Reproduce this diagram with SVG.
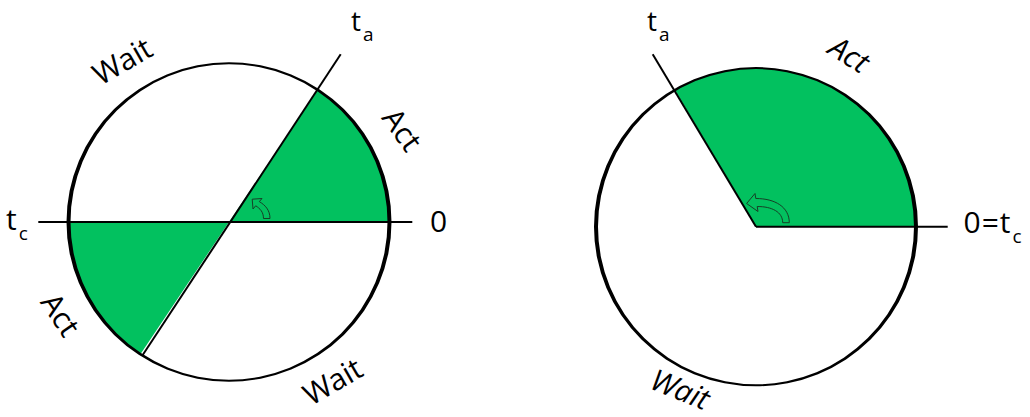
<svg xmlns="http://www.w3.org/2000/svg" width="1030" height="417" viewBox="0 0 1030 417">
<style>
.ring{fill:#000;fill-rule:evenodd}
.act{fill:#02C15F}
.ln{stroke:#000;stroke-width:2;fill:none}
.arr{fill:#02C15F;stroke:#173f26;stroke-width:1}
text{font-family:"Open Sans","Noto Sans","DejaVu Sans",sans-serif;font-size:30px;fill:#000}
.top{font-size:28px}
.sub{font-size:19px}
.it{font-style:italic}
</style>
<rect width="1030" height="417" fill="#fff"/>
<g id="left-diagram">
  <path class="act" d="M229,222 L389.5,222 A160.5,158.7 0 0 0 317.6,89.7 Z"/>
  <path class="act" d="M229,222 L68.5,222 A160.5,158.7 0 0 0 140.4,354.3 Z"/>
  <path class="ring" d="M66.5,222 a162.5,159.7 0 1 0 325,0 a162.5,159.7 0 1 0 -325,0 Z M70.5,222 a158.5,157.7 0 1 0 317,0 a158.5,157.7 0 1 0 -317,0 Z"/>
</g>
<g id="right-diagram">
  <path class="act" d="M756,226.7 L916,226.7 A160,158.5 0 0 0 674.8,90.1 Z"/>
  <path class="ring" d="M594,226.7 a162,159.5 0 1 0 324,0 a162,159.5 0 1 0 -324,0 Z M598,226.7 a158,157.5 0 1 0 316,0 a158,157.5 0 1 0 -316,0 Z"/>
</g>
<g id="connectors">
  <line class="ln" x1="38.3" y1="222" x2="412.3" y2="222"/>
  <line class="ln" x1="340.7" y1="54.3" x2="142.7" y2="355"/>
  <line class="ln" x1="756" y1="226.7" x2="947.7" y2="226.7"/>
  <line class="ln" x1="756" y1="226.7" x2="652.7" y2="54.3"/>
  <path class="arr" d="M270,218.5 C270,210 265,205 259.3,201.6 L262,198.5 L252.2,199.2 L253,209 L255.7,205.8 C260,208.5 263.5,212 263.5,218.5 Z"/>
  <path class="arr" d="M789.3,222.7 C789.3,207 775,198.5 755.8,198.5 L755,193.5 L746.6,203.5 L758,211.5 L757.2,206.5 C772,206.5 782.7,212 782.7,222.7 Z"/>
</g>
<g id="labels-left">
  <text class="top" x="351" y="31">t<tspan class="sub" dx="2" dy="10">a</tspan></text>
  <text x="6" y="230">t<tspan class="sub" dx="2" dy="10">c</tspan></text>
  <text x="430" y="232">0</text>
  <text transform="translate(122.7,61.7) rotate(-30)" text-anchor="middle" y="10">Wait</text>
  <text transform="translate(401.7,130) rotate(54)" text-anchor="middle" y="10">Act</text>
  <text transform="translate(60,315) rotate(56)" text-anchor="middle" y="10">Act</text>
  <text transform="translate(333,382) rotate(-30)" text-anchor="middle" y="10">Wait</text>
</g>
<g id="labels-right">
  <text class="top" x="647" y="31">t<tspan class="sub" dx="2" dy="10">a</tspan></text>
  <text x="963.5" y="233" letter-spacing="1">0=t<tspan class="sub" dx="1" dy="10">c</tspan></text>
  <text class="it" transform="translate(849,55) rotate(32)" text-anchor="middle" y="10">Act</text>
  <text class="it" transform="translate(680,390) rotate(22)" text-anchor="middle" y="10">Wait</text>
</g>
</svg>
